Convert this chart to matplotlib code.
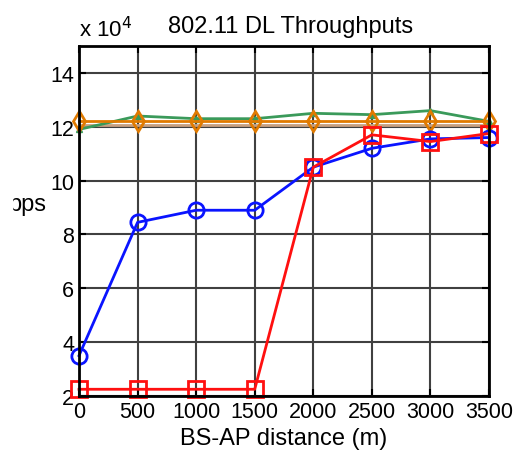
import matplotlib
matplotlib.use("Agg")
import matplotlib.pyplot as plt
from matplotlib.patches import Rectangle

plt.rcParams["font.family"] = ["Liberation Sans", "DejaVu Sans"]

# ==== Daten (Durchsatz in Einheiten von 1e4 bps) ====
distance = [0, 500, 1000, 1500, 2000, 2500, 3000, 3500]
blue_vals = [3.5, 8.45, 8.9, 8.9, 10.5, 11.2, 11.55, 11.6]
red_vals = [2.25, 2.25, 2.25, 2.25, 10.5, 11.7, 11.45, 11.75]
green_vals = [11.9, 12.4, 12.3, 12.3, 12.5, 12.45, 12.6, 12.2]
orange_vals = [12.2, 12.2, 12.2, 12.2, 12.2, 12.2, 12.2, 12.2]
tan_vals = [12.05, 12.05, 12.05, 12.05, 12.05, 12.05, 12.05, 12.05]

x_ticks = [0, 500, 1000, 1500, 2000, 2500, 3000, 3500]
y_ticks = [2, 4, 6, 8, 10, 12, 14]

fig = plt.figure(figsize=(5.19, 4.6), dpi=100)
ax = fig.add_axes([79 / 519, 1 - 397 / 460, 410 / 519, 350 / 460])

ax.plot(distance, tan_vals, color="#c8a080", lw=2)
ax.plot(distance, green_vals, color="#3a9a5a", lw=2, marker="^", ms=5,
        clip_on=False)
ax.plot(distance, orange_vals, color="#e07a00", lw=2, marker="d", ms=10,
        mfc="none", mew=2, clip_on=False)
ax.plot(distance, blue_vals, color="#0a14ff", lw=2, marker="o", ms=11,
        mfc="none", mew=2, clip_on=False)
ax.plot(distance, red_vals, color="#ff1010", lw=2, marker="s", ms=11,
        mfc="none", mew=2, clip_on=False)

ax.set_xlim(0, 3500)
ax.set_ylim(2, 15)
ax.set_xticks(x_ticks)
ax.set_yticks(y_ticks)
ax.tick_params(labelsize=15.5, direction="in", top=True, right=True,
               length=5, width=1.5)
ax.grid(True, color="#404040", lw=1.5)
for s in ax.spines.values():
    s.set_linewidth(2)

ax.set_xlabel("BS-AP distance (m)", fontsize=17, labelpad=4)
ax.set_title("802.11 DL Throughputs", fontsize=17, x=0.515, pad=10)
fig.text(79 / 519, 1 - 30 / 460, r"x 10$^{4}$", fontsize=16, ha="left", va="center")

# y-Beschriftung ist im Original links abgeschnitten
fig.text(46 / 519, 1 - 205 / 460, "bps", fontsize=17, ha="right", va="center")
fig.add_artist(Rectangle((0, 1 - 225 / 460), 12 / 519, 40 / 460,
                         transform=fig.transFigure, color="white", zorder=10))

plt.savefig("out.png", dpi=100)
plt.close()
